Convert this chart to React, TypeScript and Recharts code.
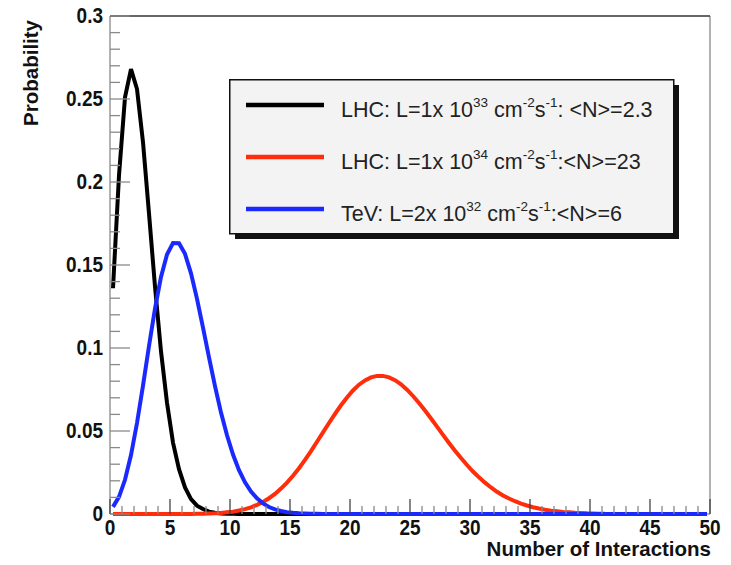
import { LineChart, Line, XAxis, YAxis, ReferenceLine, Legend, Label } from 'recharts';

// sample positions (bin centres, 0..50)
const xs = [
  0.25, 0.75, 1.25, 1.75, 2.25, 2.75, 3.25, 3.75, 4.25, 4.75,
  5.25, 5.75, 6.25, 6.75, 7.25, 7.75, 8.25, 8.75, 9.25, 9.75,
  10.25, 10.75, 11.25, 11.75, 12.25, 12.75, 13.25, 13.75, 14.25, 14.75,
  15.25, 15.75, 16.25, 16.75, 17.25, 17.75, 18.25, 18.75, 19.25, 19.75,
  20.25, 20.75, 21.25, 21.75, 22.25, 22.75, 23.25, 23.75, 24.25, 24.75,
  25.25, 25.75, 26.25, 26.75, 27.25, 27.75, 28.25, 28.75, 29.25, 29.75,
  30.25, 30.75, 31.25, 31.75, 32.25, 32.75, 33.25, 33.75, 34.25, 34.75,
  35.25, 35.75, 36.25, 36.75, 37.25, 37.75, 38.25, 38.75, 39.25, 39.75,
  40.25, 40.75, 41.25, 41.75, 42.25, 42.75, 43.25, 43.75, 44.25, 44.75,
  45.25, 45.75, 46.25, 46.75, 47.25, 47.75, 48.25, 48.75, 49.25, 49.75,
];

// LHC, L=1e33, <N>=2.3
const lhcLow = [
  0.136, 0.204, 0.251, 0.268, 0.256, 0.224, 0.181, 0.137, 0.098, 0.067,
  0.043, 0.027, 0.016, 0.009, 0.005, 0.003, 0.0014, 0.0007, 0.0003, 0.0002,
  0.0001, 0, 0, 0, 0, 0, 0, 0, 0, 0,
  0, 0, 0, 0, 0, 0, 0, 0, 0, 0,
  0, 0, 0, 0, 0, 0, 0, 0, 0, 0,
  0, 0, 0, 0, 0, 0, 0, 0, 0, 0,
  0, 0, 0, 0, 0, 0, 0, 0, 0, 0,
  0, 0, 0, 0, 0, 0, 0, 0, 0, 0,
  0, 0, 0, 0, 0, 0, 0, 0, 0, 0,
  0, 0, 0, 0, 0, 0, 0, 0, 0, 0,
];

// LHC, L=1e34, <N>=23 (ends near 41)
const lhcHigh = [
  0, 0, 0, 0, 0, 0, 0, 0, 0, 0,
  0, 0, 0, 0, 0.0001, 0.00015, 0.0003, 0.0004, 0.0006, 0.001,
  0.0014, 0.0021, 0.0029, 0.004, 0.0055, 0.0073, 0.0095, 0.0121, 0.0153, 0.0189,
  0.023, 0.0276, 0.0326, 0.0379, 0.0435, 0.0492, 0.0548, 0.0603, 0.0655, 0.0702,
  0.0744, 0.0779, 0.0805, 0.0823, 0.0832, 0.0832, 0.0823, 0.0806, 0.0781, 0.0749,
  0.0711, 0.0669, 0.0623, 0.0575, 0.0526, 0.0477, 0.0428, 0.0381, 0.0337, 0.0295,
  0.0256, 0.0221, 0.0189, 0.016, 0.0134, 0.0112, 0.0093, 0.0077, 0.0062, 0.0051,
  0.0041, 0.0033, 0.0026, 0.002, 0.0016, 0.0012, 0.001, 0.0007, 0.0006, 0.0004,
  0.0003, 0.0002, 0.0002,
];

// TeV, L=2e32, <N>=6
const tevatron = [
  0.0043, 0.0103, 0.0206, 0.0355, 0.0548, 0.0773, 0.1012, 0.1237, 0.1428, 0.1563,
  0.1632, 0.1631, 0.1567, 0.145, 0.1296, 0.1123, 0.0943, 0.077, 0.0611, 0.0474,
  0.0358, 0.0264, 0.0191, 0.0135, 0.0094, 0.0064, 0.0042, 0.0028, 0.0018, 0.0011,
  0.0007, 0.0004, 0.0003, 0.0002, 0.0001, 0, 0, 0, 0, 0,
  0, 0, 0, 0, 0, 0, 0, 0, 0, 0,
  0, 0, 0, 0, 0, 0, 0, 0, 0, 0,
  0, 0, 0, 0, 0, 0, 0, 0, 0, 0,
  0, 0, 0, 0, 0, 0, 0, 0, 0, 0,
  0, 0, 0, 0, 0, 0, 0, 0, 0, 0,
  0, 0, 0, 0, 0, 0, 0, 0, 0, 0,
];

const xTicks = [
  0, 1, 2, 3, 4, 5, 6, 7, 8, 9, 10, 11, 12, 13, 14, 15, 16, 17, 18, 19, 20,
  21, 22, 23, 24, 25, 26, 27, 28, 29, 30, 31, 32, 33, 34, 35, 36, 37, 38, 39, 40,
  41, 42, 43, 44, 45, 46, 47, 48, 49, 50,
];
const yTicks = [
  0, 0.01, 0.02, 0.03, 0.04, 0.05, 0.06, 0.07, 0.08, 0.09, 0.1,
  0.11, 0.12, 0.13, 0.14, 0.15, 0.16, 0.17, 0.18, 0.19, 0.2,
  0.21, 0.22, 0.23, 0.24, 0.25, 0.26, 0.27, 0.28, 0.29, 0.3,
];

// legend text: [prefix, exponent of 10, tail]
const legendText = [
  ['LHC: L=1x 10', '33', ': <N>=2.3'],
  ['LHC: L=1x 10', '34', ':<N>=23'],
  ['TeV: L=2x 10', '32', ':<N>=6'],
];
const colors = ['#000000', '#ff2d0a', '#1a2aff'];

const rows = xs.map((x, i) => ({ x, lhcLow: lhcLow[i], lhcHigh: lhcHigh[i], tevatron: tevatron[i] }));

const FONT = "'Liberation Sans', Arial, Helvetica, sans-serif";
const TICK_COLOR = '#8a8a8a';

function XTick(props: any) {
  const { x, y, payload } = props;
  const major = payload.value % 5 === 0;
  return (
    <g>
      <line x1={x} x2={x} y1={y} y2={y - (major ? 15 : 8)} stroke={major ? '#444' : TICK_COLOR} strokeWidth={1.3} />
      {major && (
        <text transform={`translate(${x},${y + 21}) scale(1,1.12)`} textAnchor="middle" fontFamily={FONT} fontWeight="bold" fontSize={19} fill="#111">
          {payload.value}
        </text>
      )}
    </g>
  );
}

function YTick(props: any) {
  const { x, y, payload } = props;
  const v = payload.value;
  const major = Math.abs(v * 20 - Math.round(v * 20)) < 1e-6;
  return (
    <g>
      <line x1={x} x2={x + (major ? 20 : 10)} y1={y} y2={y} stroke={TICK_COLOR} strokeWidth={1.3} />
      {major && (
        <text transform={`translate(${x - 7},${y + 7}) scale(1,1.12)`} textAnchor="end" fontFamily={FONT} fontWeight="bold" fontSize={19} fill="#111">
          {String(+v.toFixed(2))}
        </text>
      )}
    </g>
  );
}

function LegendBox(props: any) {
  const items = props.payload || [];
  return (
    <svg width={452} height={162} style={{ display: 'block' }}>
      {/* shadow */}
      <rect x={6} y={6} width={444} height={154} fill="#111" />
      <rect x={0.75} y={0.75} width={444} height={154} fill="#f3f3f3" stroke="#111" strokeWidth={1.5} />
      {items.map((item: any, i: number) => {
        const cy = 26 + i * 52;
        const [pre, exp, tail] = legendText[i];
        return (
          <g key={i}>
            <line x1={17} x2={95} y1={cy} y2={cy} stroke={item.color} strokeWidth={4.5} />
            <text x={112} y={cy + 12} fontFamily={FONT} fontSize={21.5} fill="#222" style={{ whiteSpace: 'pre' }}>
              <tspan>{pre}</tspan>
              <tspan dy={-10} fontSize={13.5}>{exp}</tspan>
              <tspan dy={10}>{' cm'}</tspan>
              <tspan dy={-10} fontSize={13.5}>-2</tspan>
              <tspan dy={10}>s</tspan>
              <tspan dy={-10} fontSize={13.5}>-1</tspan>
              <tspan dy={10}>{tail}</tspan>
            </text>
          </g>
        );
      })}
    </svg>
  );
}

export default function App() {
  return (
    <div style={{ position: 'absolute', left: 0, top: 0, width: 731, height: 565, background: '#fff' }}>
      <LineChart width={731} height={565} data={rows} margin={{ top: 16, right: 21, bottom: 0, left: 0 }}>
        <XAxis
          type="number"
          dataKey="x"
          domain={[0, 50]}
          ticks={xTicks}
          interval={0}
          tick={<XTick />}
          tickLine={false}
          axisLine={false}
          tickSize={0}
          tickMargin={0}
          height={51}
          label={
            <Label
              content={() => (
                <text x={711} y={556} textAnchor="end" fontFamily={FONT} fontWeight="bold" fontSize={20.5} fill="#111">
                  Number of Interactions
                </text>
              )}
            />
          }
        />
        <YAxis
          type="number"
          domain={[0, 0.3]}
          ticks={yTicks}
          interval={0}
          tick={<YTick />}
          tickLine={false}
          axisLine={false}
          tickSize={0}
          tickMargin={0}
          width={110}
          label={
            <Label
              content={() => (
                <text transform="translate(38,20) rotate(-90)" textAnchor="end" fontFamily={FONT} fontWeight="bold" fontSize={20.5} fill="#111">
                  Probability
                </text>
              )}
            />
          }
        />
        <ReferenceLine x={0} stroke="#999" strokeWidth={1.5} />
        <ReferenceLine x={50} stroke="#999" strokeWidth={1.5} />
        <ReferenceLine y={0.3} stroke="#333" strokeWidth={1.5} />
        <ReferenceLine y={0} stroke="#999" strokeWidth={1.5} />
        <Line type="linear" dataKey="lhcLow" name="LHC 1e33" stroke={colors[0]} strokeWidth={4} dot={false} isAnimationActive={false} />
        <Line type="linear" dataKey="lhcHigh" name="LHC 1e34" stroke={colors[1]} strokeWidth={4} dot={false} isAnimationActive={false} />
        <Line type="linear" dataKey="tevatron" name="TeV 2e32" stroke={colors[2]} strokeWidth={4} dot={false} isAnimationActive={false} />
        <Legend
          layout="horizontal"
          verticalAlign="middle"
          align="center"
          content={<LegendBox />}
          wrapperStyle={{ position: 'absolute', left: 229, top: 79, width: 452, height: 162 }}
        />
      </LineChart>
    </div>
  );
}
